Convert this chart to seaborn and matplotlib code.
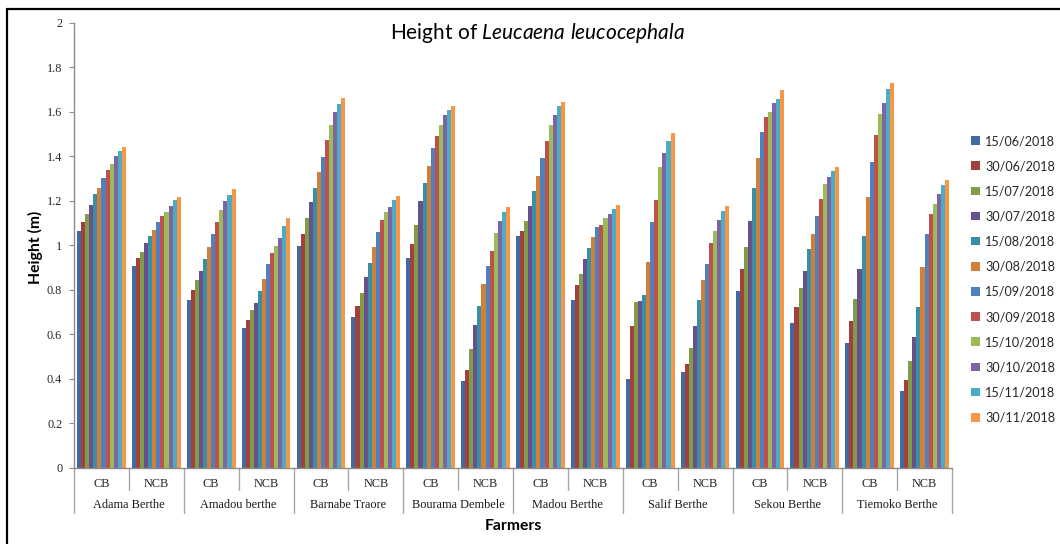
import numpy as np
import pandas as pd
import matplotlib
matplotlib.use("Agg")
import matplotlib.pyplot as plt
import matplotlib.transforms as mtransforms
from matplotlib.patches import Patch
from matplotlib.lines import Line2D
import seaborn as sns

# ---- data -------------------------------------------------------------
farmers = ["Adama Berthe", "Amadou berthe", "Barnabe Traore", "Bourama Dembele",
           "Madou Berthe", "Salif Berthe", "Sekou Berthe", "Tiemoko Berthe"]
treatments = ["CB", "NCB"]
dates = ["15/06/2018", "30/06/2018", "15/07/2018", "30/07/2018",
         "15/08/2018", "30/08/2018", "15/09/2018", "30/09/2018",
         "15/10/2018", "30/10/2018", "15/11/2018", "30/11/2018"]

adama_cb = [1.064, 1.103, 1.142, 1.181, 1.230, 1.258, 1.303, 1.337, 1.364, 1.401, 1.425, 1.440]
adama_ncb = [0.909, 0.942, 0.970, 1.009, 1.042, 1.069, 1.103, 1.131, 1.152, 1.175, 1.203, 1.219]
amadou_cb = [0.755, 0.799, 0.843, 0.887, 0.937, 0.993, 1.049, 1.103, 1.158, 1.197, 1.225, 1.252]
amadou_ncb = [0.627, 0.666, 0.710, 0.743, 0.794, 0.848, 0.915, 0.966, 0.999, 1.031, 1.087, 1.121]
barnabe_cb = [0.999, 1.049, 1.125, 1.193, 1.258, 1.330, 1.397, 1.475, 1.540, 1.597, 1.636, 1.663]
barnabe_ncb = [0.678, 0.727, 0.788, 0.860, 0.921, 0.993, 1.060, 1.113, 1.148, 1.170, 1.203, 1.221]
bourama_cb = [0.943, 1.004, 1.093, 1.197, 1.281, 1.358, 1.436, 1.490, 1.540, 1.585, 1.607, 1.624]
bourama_ncb = [0.390, 0.439, 0.533, 0.643, 0.727, 0.827, 0.909, 0.976, 1.054, 1.109, 1.148, 1.170]
madou_cb = [1.043, 1.064, 1.109, 1.176, 1.242, 1.313, 1.391, 1.470, 1.540, 1.585, 1.624, 1.646]
madou_ncb = [0.755, 0.821, 0.872, 0.937, 0.987, 1.037, 1.082, 1.093, 1.121, 1.143, 1.164, 1.181]
salif_cb = [0.401, 0.639, 0.745, 0.751, 0.778, 0.927, 1.104, 1.203, 1.352, 1.413, 1.469, 1.503]
salif_ncb = [0.430, 0.469, 0.540, 0.639, 0.755, 0.843, 0.916, 1.010, 1.064, 1.115, 1.154, 1.176]
sekou_cb = [0.796, 0.893, 0.993, 1.109, 1.258, 1.391, 1.509, 1.575, 1.601, 1.640, 1.657, 1.696]
sekou_ncb = [0.651, 0.722, 0.810, 0.884, 0.982, 1.049, 1.131, 1.209, 1.276, 1.309, 1.336, 1.352]
tiemoko_cb = [0.561, 0.661, 0.761, 0.894, 1.043, 1.216, 1.375, 1.497, 1.591, 1.640, 1.701, 1.728]
tiemoko_ncb = [0.345, 0.396, 0.479, 0.590, 0.722, 0.904, 1.049, 1.142, 1.187, 1.231, 1.270, 1.293]

heights = [adama_cb, adama_ncb, amadou_cb, amadou_ncb, barnabe_cb, barnabe_ncb,
           bourama_cb, bourama_ncb, madou_cb, madou_ncb, salif_cb, salif_ncb,
           sekou_cb, sekou_ncb, tiemoko_cb, tiemoko_ncb]

colors = ["#416A9E", "#A3403D", "#809C46", "#68508A", "#3A8FA6", "#D0803A",
          "#4F81BD", "#C0504D", "#9BBB59", "#8064A2", "#4BACC6", "#F79646"]

# ---- long table ---------------------------------------------------------
rows = []
order = []
for fi, farmer in enumerate(farmers):
    for ti, trt in enumerate(treatments):
        key = f"{farmer}|{trt}"
        order.append(key)
        for d, v in zip(dates, heights[fi * 2 + ti]):
            rows.append({"group": key, "date": d, "height": v})
df = pd.DataFrame(rows)

# ---- style ----------------------------------------------------------------
sns.set_theme(style="white")
plt.rcParams["font.family"] = ["Lato", "DejaVu Sans"]
plt.rcParams["mathtext.fontset"] = "custom"
plt.rcParams["mathtext.rm"] = "Lato"
plt.rcParams["mathtext.it"] = "Lato:italic"

W, H = 1060, 544
fig = plt.figure(figsize=(W / 100, H / 100), dpi=100)
fig.patch.set_facecolor("white")

ax_left, ax_right, ax_bottom, ax_top = 74, 952, 468, 22.7
ax = fig.add_axes([ax_left / W, 1 - ax_bottom / H,
                   (ax_right - ax_left) / W, (ax_bottom - ax_top) / H])

sns.barplot(data=df, x="group", y="height", hue="date", order=order,
            hue_order=dates, palette=colors, width=0.89, saturation=1,
            linewidth=0, errorbar=None, legend=False, ax=ax)

axis_grey = "#8C8C8C"
ax.set_xlim(-0.5, len(order) - 0.5)
ax.set_ylim(0, 2)
yt = np.round(np.arange(0, 2.01, 0.2), 1)
ax.set_yticks(yt, labels=[f"{v:g}" for v in yt])
ax.tick_params(axis="y", direction="out", length=3.5, width=0.8, color=axis_grey,
               pad=5, labelsize=8.8, left=True)
for lab in ax.get_yticklabels():
    lab.set_fontfamily("Liberation Serif")

ax.set_xticks(range(len(order)), labels=[k.split("|")[1] for k in order])
ax.tick_params(axis="x", length=0, pad=7, labelsize=8.8)
for lab in ax.get_xticklabels():
    lab.set_fontfamily("Liberation Serif")

ax.set_xlabel("")
ax.set_ylabel("")
for side in ("top", "right"):
    ax.spines[side].set_visible(False)
for side in ("left", "bottom"):
    ax.spines[side].set_color(axis_grey)
    ax.spines[side].set_linewidth(1.0)

# category dividers below the axis
trans = mtransforms.blended_transform_factory(ax.transData, ax.transAxes)
ph = ax_bottom - ax_top
deep = -(513 - ax_bottom) / ph
shallow = -(490 - ax_bottom) / ph
for k in range(len(order) + 1):
    x = k - 0.5
    y1 = deep if k % 2 == 0 else shallow
    ax.add_line(Line2D([x, x], [0, y1], transform=trans, color="#A6A6A6",
                       lw=1.0, clip_on=False))

# farmer names (second row of category labels)
for fi, farmer in enumerate(farmers):
    ax.text(2 * fi + 0.5, -(505 - ax_bottom) / ph, farmer, transform=trans,
            ha="center", va="center", fontsize=8.8, family="Liberation Serif",
            color="#1a1a1a")

# axis titles and chart title
fig.text(513 / W, 1 - 526 / H, "Farmers", ha="center", va="center",
         fontsize=11.3, fontweight="bold", color="black")
fig.text(35 / W, 1 - 247 / H, "Height (m)", ha="center", va="center",
         rotation=90, fontsize=11.3, fontweight="bold", color="black")
fig.text(537 / W, 1 - 39 / H, r"Height of $\mathit{Leucaena\ leucocephala}$",
         ha="center", va="baseline", fontsize=15, color="black")

# legend
handles = [Patch(facecolor=c, edgecolor="none", label=d) for c, d in zip(colors, dates)]
fig.legend(handles=handles, loc="upper left", bbox_to_anchor=(971 / W, 1 - 135 / H),
           frameon=False, fontsize=9.1, handlelength=0.68, handleheight=0.68,
           handletextpad=0.45, labelspacing=1.04, borderpad=0, borderaxespad=0)

# outer chart frame (left and top edges)
fig.add_artist(Line2D([7 / W, 7 / W], [0, 1 - 8.7 / H], transform=fig.transFigure,
                      color="black", lw=1.6))
fig.add_artist(Line2D([7 / W, 1], [1 - 8.7 / H, 1 - 8.7 / H], transform=fig.transFigure,
                      color="black", lw=1.6))

fig.savefig("out.png", dpi=100, facecolor="white")
